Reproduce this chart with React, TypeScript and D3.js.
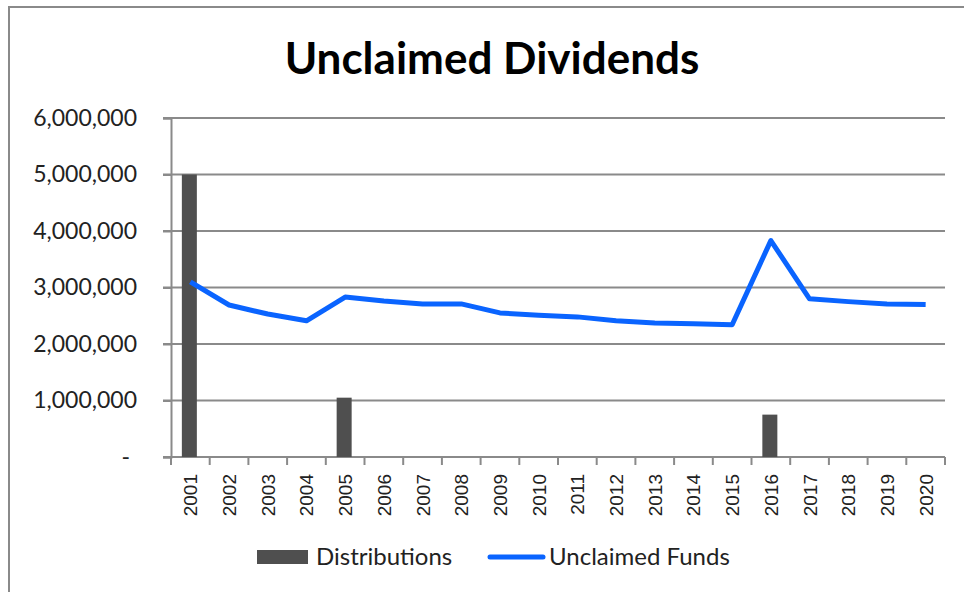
import { useEffect, useRef } from "react";
import * as d3 from "d3";

const years = [
  "2001", "2002", "2003", "2004", "2005", "2006", "2007", "2008", "2009", "2010",
  "2011", "2012", "2013", "2014", "2015", "2016", "2017", "2018", "2019", "2020",
];
const distributions = [
  5000000, 0, 0, 0, 1050000, 0, 0, 0, 0, 0,
  0, 0, 0, 0, 0, 750000, 0, 0, 0, 0,
];
const unclaimedFunds = [
  3100000, 2690000, 2530000, 2410000, 2830000, 2760000, 2710000, 2710000, 2550000, 2510000,
  2480000, 2410000, 2370000, 2360000, 2340000, 3830000, 2800000, 2750000, 2710000, 2700000,
];
const yTicks = [0, 1000000, 2000000, 3000000, 4000000, 5000000, 6000000];

const App = () => {
  const svgRef = useRef<SVGSVGElement>(null);

  useEffect(() => {
    const width = 964;
    const height = 592;
    const margin = { top: 118, right: 19, bottom: 135, left: 171 };
    const labelFont = "Lato, 'Noto Sans', sans-serif";

    const svg = d3.select(svgRef.current)
      .attr("width", width)
      .attr("height", height)
      .style("display", "block")
      .style("background", "#fff");
    svg.selectAll("*").remove();

    // outer chart border
    svg.append("rect")
      .attr("x", 9).attr("y", 7)
      .attr("width", width + 20).attr("height", height + 20)
      .attr("fill", "none")
      .attr("stroke", "#8a8a8a")
      .attr("stroke-width", 2);

    svg.append("text")
      .attr("x", 492).attr("y", 74)
      .attr("text-anchor", "middle")
      .style("font-family", labelFont)
      .style("font-weight", "bold")
      .style("font-size", "44px")
      .attr("fill", "#000")
      .text("Unclaimed Dividends");

    const x = d3.scaleBand()
      .domain(years)
      .range([margin.left, width - margin.right]);

    const y = d3.scaleLinear()
      .domain([0, 6000000])
      .range([height - margin.bottom, margin.top]);

    // gridlines
    svg.append("g")
      .selectAll("line")
      .data(yTicks.filter((d) => d > 0))
      .join("line")
      .attr("x1", margin.left - 8)
      .attr("x2", width - margin.right)
      .attr("y1", (d) => y(d))
      .attr("y2", (d) => y(d))
      .attr("stroke", "#8a8a8a")
      .attr("stroke-width", 2);

    // y axis
    const yAxis = d3.axisLeft(y)
      .tickValues(yTicks)
      .tickSize(8)
      .tickPadding(26)
      .tickFormat((d) => (+d === 0 ? "-" : d3.format(",")(+d)));

    const gy = svg.append("g")
      .attr("transform", `translate(${margin.left},0)`)
      .call(yAxis);
    gy.select(".domain").attr("stroke", "#8a8a8a").attr("stroke-width", 2);
    gy.selectAll(".tick line").attr("stroke", "#8a8a8a").attr("stroke-width", 2);
    gy.selectAll(".tick text")
      .style("font-family", labelFont)
      .style("font-size", "23px")
      .attr("fill", "#222");
    gy.selectAll(".tick text").filter((d) => +d === 0).attr("dx", -7);

    // x axis baseline and ticks at category boundaries
    const x0 = y(0);
    svg.append("line")
      .attr("x1", margin.left - 8).attr("x2", width - margin.right)
      .attr("y1", x0).attr("y2", x0)
      .attr("stroke", "#8a8a8a").attr("stroke-width", 2);
    const bounds = years.map((d) => x(d) as number).concat([width - margin.right]);
    svg.append("g")
      .selectAll("line")
      .data(bounds)
      .join("line")
      .attr("x1", (d) => d).attr("x2", (d) => d)
      .attr("y1", x0).attr("y2", x0 + 8)
      .attr("stroke", "#8a8a8a").attr("stroke-width", 2);

    svg.append("g")
      .selectAll("text")
      .data(years)
      .join("text")
      .attr("transform", (d) => `translate(${(x(d) as number) + x.bandwidth() / 2 + 7},${x0 + 17}) rotate(-90)`)
      .attr("text-anchor", "end")
      .style("font-family", "'Liberation Sans', Arial, sans-serif")
      .style("font-size", "19px")
      .attr("fill", "#222")
      .text((d) => d);

    // bars
    const barW = 15;
    svg.append("g")
      .selectAll("rect")
      .data(years.map((yr, i) => ({ yr, v: distributions[i] })).filter((d) => d.v > 0))
      .join("rect")
      .attr("x", (d) => (x(d.yr) as number) + x.bandwidth() / 2 - barW / 2 - 1)
      .attr("y", (d) => y(d.v))
      .attr("width", barW)
      .attr("height", (d) => x0 - y(d.v))
      .attr("fill", "#4f4f4f");

    // line
    const line = d3.line<number>()
      .x((_, i) => (x(years[i]) as number) + x.bandwidth() / 2)
      .y((d) => y(d));
    svg.append("path")
      .datum(unclaimedFunds)
      .attr("d", line)
      .attr("fill", "none")
      .attr("stroke", "#0a64ff")
      .attr("stroke-width", 5)
      .attr("stroke-linejoin", "round");

    // legend
    const lg = svg.append("g");
    lg.append("rect")
      .attr("x", 257).attr("y", 550).attr("width", 51).attr("height", 14)
      .attr("fill", "#4f4f4f");
    lg.append("text")
      .attr("x", 316).attr("y", 565)
      .style("font-family", labelFont)
      .style("font-size", "24px")
      .attr("fill", "#222")
      .text("Distributions");
    lg.append("line")
      .attr("x1", 490).attr("x2", 543).attr("y1", 557).attr("y2", 557)
      .attr("stroke", "#0a64ff").attr("stroke-width", 5)
      .attr("stroke-linecap", "round");
    lg.append("text")
      .attr("x", 549).attr("y", 565)
      .style("font-family", labelFont)
      .style("font-size", "24px")
      .attr("fill", "#222")
      .text("Unclaimed Funds");
  }, []);

  return <svg ref={svgRef} style={{ position: "absolute", left: 0, top: 0 }} />;
};

export default App;
